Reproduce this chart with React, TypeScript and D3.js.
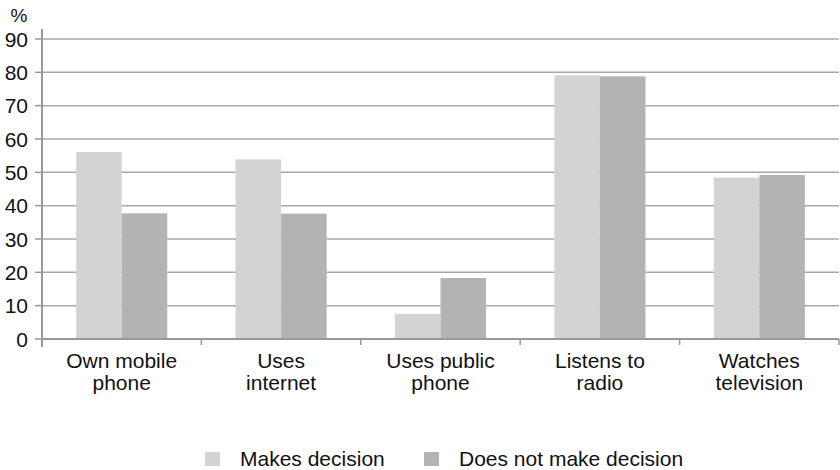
import React from "react";
import * as d3 from "d3";

const categories: string[][] = [
  ["Own mobile", "phone"],
  ["Uses", "internet"],
  ["Uses public", "phone"],
  ["Listens to", "radio"],
  ["Watches", "television"],
];
const seriesNames = ["Makes decision", "Does not make decision"];
const makesDecision = [56.1, 53.9, 7.5, 79.1, 48.4];
const doesNotMakeDecision = [37.7, 37.6, 18.3, 78.8, 49.2];
const yTicks = [0, 10, 20, 30, 40, 50, 60, 70, 80, 90];
const colors = ["#d3d3d3", "#b3b3b3"];

export default function App() {
  const W = 840;
  const H = 470;
  const left = 42;
  const right = 839;
  const y0 = 339;
  const yTop = 39;
  const font = "'Liberation Sans', Arial, sans-serif";
  const fs = 21;

  const series = [makesDecision, doesNotMakeDecision];
  const keys = categories.map((c) => c.join(" "));
  const x = d3.scaleBand<string>().domain(keys).range([left, right]).paddingInner(0).paddingOuter(0);
  const xs = d3
    .scaleBand<string>()
    .domain(seriesNames)
    .range([0, x.bandwidth()])
    .paddingInner(0)
    .paddingOuter(0.75);
  const y = d3.scaleLinear().domain([0, 90]).range([y0, yTop]);

  const legendX = [205, 424];

  return (
    <svg
      width={W}
      height={H}
      style={{ position: "absolute", left: 0, top: 0, background: "#fff" }}
      fontFamily={font}
    >
      {/* gridlines */}
      {yTicks
        .filter((t) => t > 0)
        .map((t) => (
          <line key={"g" + t} x1={left} x2={right} y1={y(t)} y2={y(t)} stroke="#a8a8a8" strokeWidth={1.5} />
        ))}
      {/* bars */}
      {series.map((vals, si) =>
        vals.map((v, ci) => (
          <rect
            key={`b${si}-${ci}`}
            x={(x(keys[ci]) as number) + (xs(seriesNames[si]) as number)}
            y={y(v)}
            width={xs.bandwidth()}
            height={y(0) - y(v)}
            fill={colors[si]}
          />
        ))
      )}
      {/* y axis */}
      <line x1={left} x2={left} y1={29} y2={347} stroke="#999" strokeWidth={2} />
      {yTicks.map((t) => (
        <g key={"t" + t}>
          <line x1={35} x2={left} y1={y(t)} y2={y(t)} stroke="#999" strokeWidth={1.5} />
          <text x={28} y={y(t)} dy="0.36em" textAnchor="end" fontSize={fs} fill="#111">
            {t}
          </text>
        </g>
      ))}
      <text x={19} y={22} textAnchor="middle" fontSize={19} fill="#111">
        %
      </text>
      {/* x axis */}
      <line x1={left} x2={right} y1={y0} y2={y0} stroke="#999" strokeWidth={2} />
      {keys.map((k, i) => (
        <line
          key={"xt" + i}
          x1={(x(k) as number) + x.bandwidth()}
          x2={(x(k) as number) + x.bandwidth()}
          y1={y0}
          y2={y0 + 6}
          stroke="#999"
          strokeWidth={1.5}
        />
      ))}
      {categories.map((lines, i) => (
        <text
          key={"xl" + i}
          x={(x(keys[i]) as number) + x.bandwidth() / 2}
          textAnchor="middle"
          fontSize={fs}
          fill="#111"
        >
          {lines.map((l, j) => (
            <tspan key={j} x={(x(keys[i]) as number) + x.bandwidth() / 2} y={368 + j * 22}>
              {l}
            </tspan>
          ))}
        </text>
      ))}
      {/* legend */}
      {seriesNames.map((s, i) => (
        <g key={"l" + i}>
          <rect x={legendX[i]} y={452} width={15} height={14} fill={colors[i]} />
          <text x={legendX[i] + 35} y={466} fontSize={fs} fill="#111">
            {s}
          </text>
        </g>
      ))}
    </svg>
  );
}
